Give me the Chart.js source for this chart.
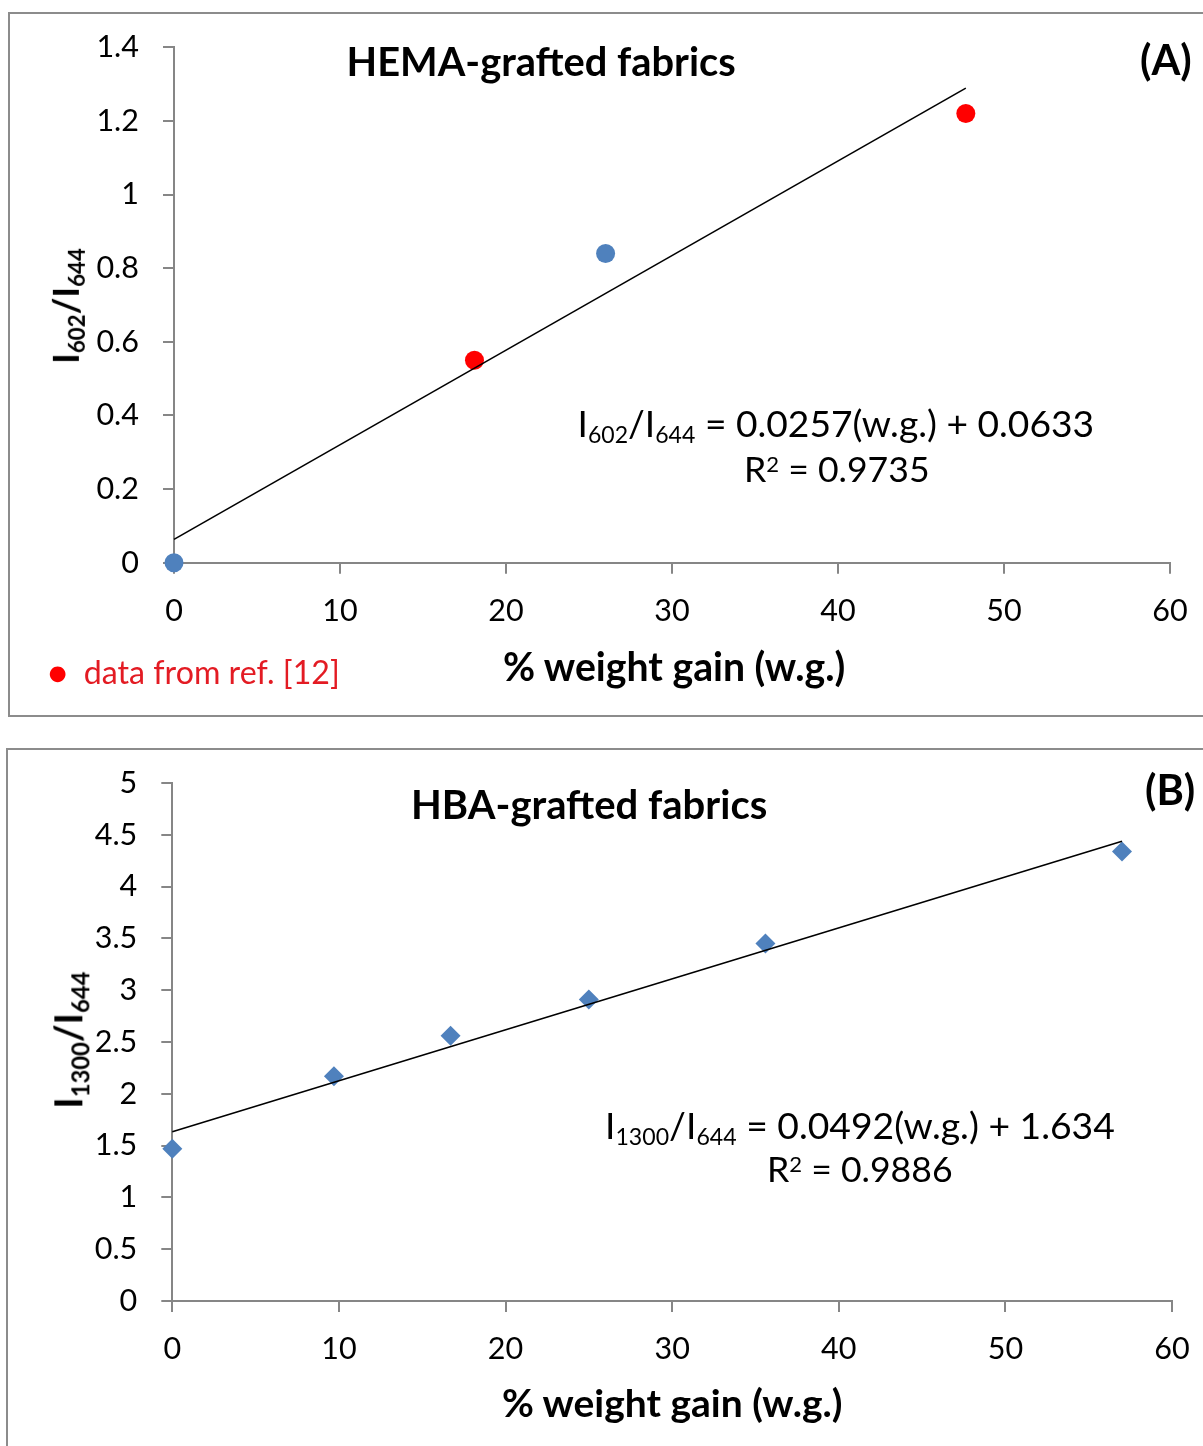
<!DOCTYPE html>
<html>
<head>
<meta charset="utf-8">
<script src="https://cdn.jsdelivr.net/npm/chart.js@4/dist/chart.umd.min.js"></script>
<style>
  html, body { margin: 0; padding: 0; background: #fff; }
  body { position: relative; width: 1203px; height: 1446px; overflow: hidden; font-family: Lato, "Open Sans", sans-serif; }
  .panel { position: absolute; border: 2px solid #8c8c8c; box-sizing: border-box; background: #fff; }
  .plot { position: absolute; }
  .txt { position: absolute; white-space: nowrap; line-height: 1; color: #000; }
  .txt sub { font-size: 0.62em; vertical-align: -0.28em; line-height: 0; }
  .txt sup { font-size: 0.62em; vertical-align: 0.45em; line-height: 0; }
  .bold { font-weight: 700; }
</style>
</head>
<body>
<div class="panel" style="left:8px;top:12px;width:1200px;height:705px"></div>
<div class="panel" style="left:6px;top:748px;width:1202px;height:702px"></div>
<canvas id="chartA" class="plot" width="1194" height="703" style="left:9px;top:13px"></canvas>
<canvas id="chartB" class="plot" width="1196" height="697" style="left:7px;top:749px"></canvas>
<div id="labels"></div>
<script>
// ---- data ----
const gainTicks = [0, 10, 20, 30, 40, 50, 60];

// (A) HEMA-grafted fabrics
const hemaGainOwn  = [0, 26.0];
const hemaRatioOwn = [0, 0.84];
const hemaGainRef  = [18.1, 47.7];
const hemaRatioRef = [0.55, 1.22];
const hemaFit      = [0.0257, 0.0633];   // slope, intercept
const hemaFitR2    = '0.9735';
const hemaTicks    = ['0', '0.2', '0.4', '0.6', '0.8', '1', '1.2', '1.4'];

// (B) HBA-grafted fabrics
const hbaGain  = [0, 9.7, 16.7, 25.0, 35.6, 57.0];
const hbaRatio = [1.47, 2.17, 2.56, 2.91, 3.45, 4.34];
const hbaFit   = [0.0492, 1.634];         // slope, intercept
const hbaFitR2 = '0.9886';
const hbaTicks = ['0', '0.5', '1', '1.5', '2', '2.5', '3', '3.5', '4', '4.5', '5'];

// ---- helpers ----
const toPoints = (xs, ys) => xs.map((x, i) => ({ x: x, y: ys[i] }));
// trendline drawn from the stated equation over the fitted x-range
const fitLine = (fit, xs) => {
  const x0 = Math.min(...xs), x1 = Math.max(...xs);
  return [{ x: x0, y: fit[0] * x0 + fit[1] }, { x: x1, y: fit[0] * x1 + fit[1] }];
};

const AXIS_GREY = '#868686';
const FONT_FAMILY = 'Lato, "Open Sans", sans-serif';

function axisStyle() {
  return {
    grid: { drawOnChartArea: false, drawTicks: true, tickLength: 11, color: AXIS_GREY, lineWidth: 2 },
    border: { display: true, color: AXIS_GREY, width: 2 }
  };
}

// fixed axis box sizes; label overhang is already covered by the layout padding
function fixAxis(size, key) {
  return s => {
    s[key] = size;
    s.paddingLeft = s.paddingRight = s.paddingTop = s.paddingBottom = 0;
  };
}

function buildChart(canvasId, datasets, yLabels, geom) {
  const yVals = yLabels.map(Number);
  return new Chart(document.getElementById(canvasId), {
    type: 'scatter',
    data: { datasets: datasets },
    options: {
      responsive: false,
      animation: false,
      devicePixelRatio: 1,
      layout: { padding: { left: 0, top: geom.top, right: geom.right, bottom: 0 } },
      plugins: { legend: { display: false }, tooltip: { enabled: false } },
      scales: {
        x: Object.assign(axisStyle(), {
          type: 'linear',
          min: gainTicks[0], max: gainTicks[gainTicks.length - 1],
          afterBuildTicks: s => { s.ticks = gainTicks.map(v => ({ value: v })); },
          afterFit: fixAxis(geom.xAxisH, 'height'),
          ticks: { font: { family: FONT_FAMILY, size: 30.5 }, color: '#000', padding: geom.xPad,
                   maxRotation: 0, callback: v => String(v) }
        }),
        y: Object.assign(axisStyle(), {
          type: 'linear',
          min: yVals[0], max: yVals[yVals.length - 1],
          afterBuildTicks: s => { s.ticks = yVals.map(v => ({ value: v })); },
          afterFit: fixAxis(geom.yAxisW, 'width'),
          ticks: { font: { family: FONT_FAMILY, size: 30.5 }, color: '#000', padding: 24,
                   callback: v => yLabels[yVals.indexOf(v)] }
        })
      }
    }
  });
}

buildChart('chartA', [
  { label: 'trend', data: fitLine(hemaFit, hemaGainOwn.concat(hemaGainRef)), showLine: true,
    borderColor: '#000', borderWidth: 1.6, pointRadius: 0, clip: false },
  { label: 'this work', data: toPoints(hemaGainOwn, hemaRatioOwn), pointStyle: 'circle',
    pointRadius: 9.5, backgroundColor: '#4F81BD', borderColor: '#4F81BD', borderWidth: 0, clip: false },
  { label: 'data from ref. [12]', data: toPoints(hemaGainRef, hemaRatioRef), pointStyle: 'circle',
    pointRadius: 9.5, backgroundColor: '#FF0000', borderColor: '#FF0000', borderWidth: 0, clip: false }
], hemaTicks, { top: 34.3, right: 33, yAxisW: 165, xAxisH: 153.3, xPad: 19 });

buildChart('chartB', [
  { label: 'trend', data: fitLine(hbaFit, hbaGain), showLine: true,
    borderColor: '#000', borderWidth: 1.6, pointRadius: 0, clip: false },
  { label: 'HBA', data: toPoints(hbaGain, hbaRatio), pointStyle: 'rectRot',
    pointRadius: 10, backgroundColor: '#4F81BD', borderColor: '#4F81BD', borderWidth: 0, clip: false }
], hbaTicks, { top: 34, right: 31, yAxisW: 165.3, xAxisH: 145, xPad: 19 });

// ---- text: titles, axis titles, equations, legend ----
const host = document.getElementById('labels');
// places a label so its width equals w and its centre sits at (cx, cy)
function put(html, cx, cy, w, cls, extra) {
  const d = document.createElement('div');
  d.className = 'txt ' + (cls || '');
  d.innerHTML = html;
  d.style.fontSize = '40px';
  if (extra) Object.assign(d.style, extra);
  host.appendChild(d);
  const size = 40 * w / d.offsetWidth;
  d.style.fontSize = size.toFixed(2) + 'px';
  d.style.left = (cx - d.offsetWidth / 2) + 'px';
  d.style.top = (cy - d.offsetHeight / 2) + 'px';
  return d;
}
function putRotated(html, cx, cy, len) {
  const d = put(html, cx, cy, len, 'bold');
  d.style.transform = 'rotate(-90deg)';
  return d;
}

// panel A
put('HEMA-grafted fabrics', 541, 61, 389, 'bold');
put('(A)', 1166, 60, 52, 'bold');
put('% weight gain (w.g.)', 674, 665, 342, 'bold');
put('I<sub>602</sub>/I<sub>644</sub> = ' + hemaFit[0] + '(w.g.) + ' + hemaFit[1], 836, 422, 517);
put('R<sup>2</sup> = ' + hemaFitR2, 837, 469, 186);
putRotated('I<sub>602</sub>/I<sub>644</sub>', 66, 306, 116);
put('<span style="color:#FF0000">\u25CF</span>&nbsp;&nbsp;data from ref. [12]', 194, 672, 292, '', { color: '#E31B23' });

// panel B
put('HBA-grafted fabrics', 589, 804, 356, 'bold');
put('(B)', 1170, 790, 50, 'bold');
put('% weight gain (w.g.)', 672, 1402, 340, 'bold');
put('I<sub>1300</sub>/I<sub>644</sub> = ' + hbaFit[0] + '(w.g.) + ' + hbaFit[1], 860, 1124, 510);
put('R<sup>2</sup> = ' + hbaFitR2, 860, 1169, 186);
putRotated('I<sub>1300</sub>/I<sub>644</sub>', 67, 1040, 137);
</script>
</body>
</html>
